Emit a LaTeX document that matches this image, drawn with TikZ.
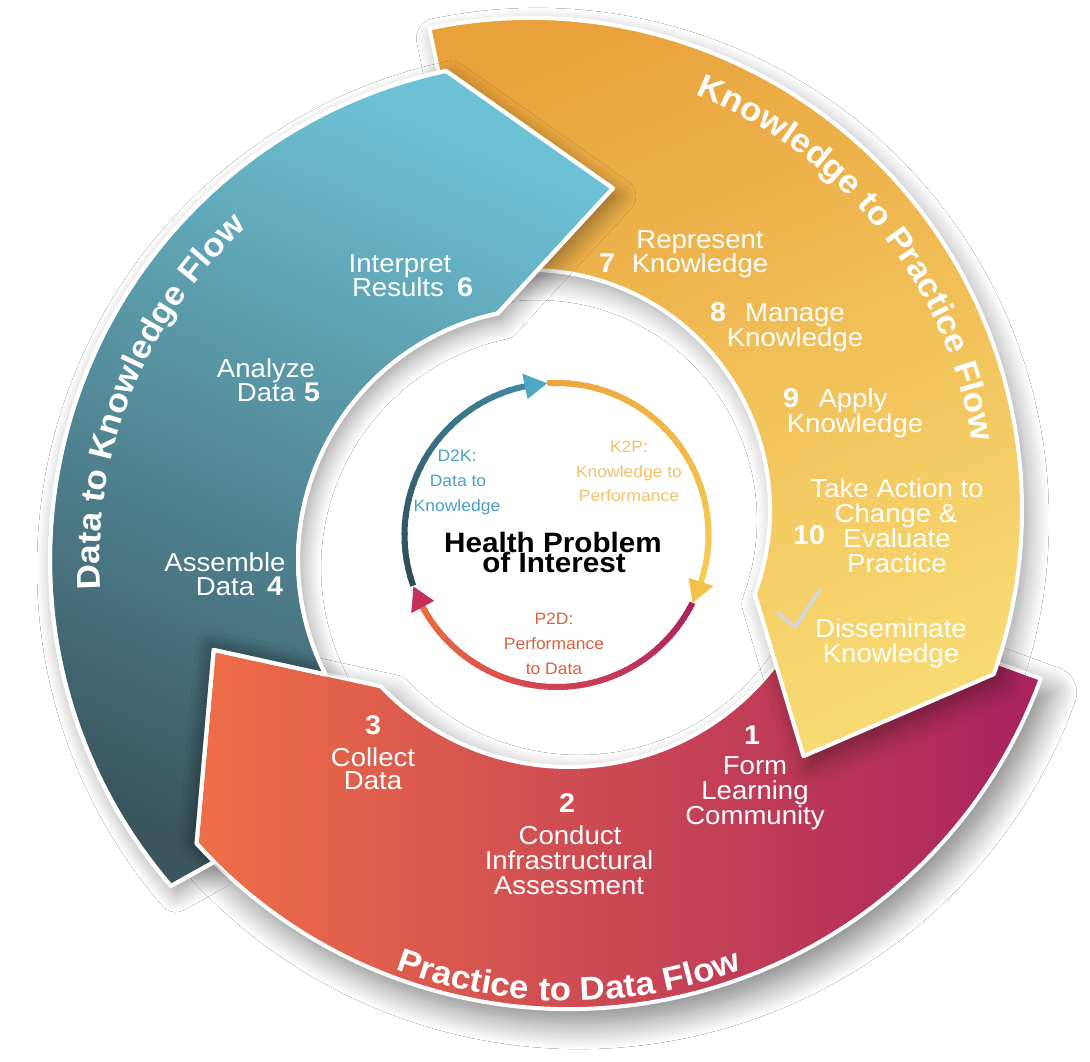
\documentclass[tikz,border=0pt]{standalone}
\usepackage{fontspec}
\setmainfont{Liberation Sans}
\newfontfamily\lblfont{Liberation Sans}[FakeStretch=1.06]
\usetikzlibrary{calc,shadows.blur,decorations.text}
\definecolor{tealL}{HTML}{6DC1D5}
\definecolor{tealD}{HTML}{3A555E}
\definecolor{yelT}{HTML}{E9A13B}
\definecolor{yelB}{HTML}{F8DA72}
\definecolor{redL}{HTML}{EE6E47}
\definecolor{redR}{HTML}{A8225F}
\definecolor{ringTA}{HTML}{2F4B55}
\definecolor{ringTB}{HTML}{3F88A0}
\definecolor{ringTH}{HTML}{4FA8C3}
\definecolor{ringYA}{HTML}{EEA53A}
\definecolor{ringYB}{HTML}{F6CC55}
\definecolor{ringYH}{HTML}{F4C047}
\definecolor{ringRA}{HTML}{AC2360}
\definecolor{ringRM}{HTML}{D24152}
\definecolor{ringRB}{HTML}{EC6C3D}
\definecolor{ringRH}{HTML}{C4305A}
\definecolor{dtk}{HTML}{4C9ECB}
\definecolor{ktp}{HTML}{F1C26C}
\definecolor{ptd}{HTML}{DE6040}
\definecolor{checkc}{HTML}{D6D6D6}

\newcommand{\tealpath}{($(T)+(220.7:500)$) arc[start angle=220.7,end angle=102,radius=500] -- ($(T)+(80.4:377)$) -- ($(T)+(102:252)$) arc[start angle=102,end angle=207,radius=252] -- ($(R)+(-158.1:383)$) -- ($(R)+(-137.9:502)$) -- ($(R)+(-135:502)$) -- cycle}
\newcommand{\yelpath}{($(Y)+(101.8:492)$) arc[start angle=101.8,end angle=-19.5,radius=492] -- ($(Y)+(-42:368)$) -- ($(Y)+(-20.5:240)$) arc[start angle=-20.5,end angle=101.8,radius=240] -- cycle}
\newcommand{\redpath}{($(R)+(-20:502)$) arc[start angle=-20,end angle=-137.9,radius=502] -- ($(R)+(-158.1:383)$) -- ($(R)+(-136.4:260)$) arc[start angle=-136.4,end angle=-20,radius=260] -- cycle}

\newcommand{\gradarc}[4]{%
  \foreach \k in {1,...,30}{%
    \pgfmathsetmacro{\gaS}{#1+(#2-#1)*(\k-1)/30}%
    \pgfmathsetmacro{\gaE}{#1+(#2-#1)*(\k+0.3)/30}%
    \pgfmathtruncatemacro{\gpc}{100*(\k-1)/29}%
    \draw[line width=6pt, color=#4!\gpc!#3] ($(S)+(\gaS:152)$) arc[start angle=\gaS, end angle=\gaE, radius=152];
  }}
\newcommand{\ringhead}[2]{%
  \fill[#2] ($(S)+(#1:152)$) -- ($(S)+(#1+8.5:139)$) -- ($(S)+(#1+8.5:165)$) -- cycle;}
\newcommand{\ttlfont}{\lblfont\bfseries\fontsize{33}{33}\selectfont}

\begin{document}
\begin{tikzpicture}[x=1pt,y=1pt,
  bandline/.style={draw=white, line width=4pt, line join=round},
  tealshadow/.style={blur shadow={shadow xshift=5pt,shadow yshift=-8pt,shadow blur radius=18pt,shadow opacity=40,shadow blur steps=12}},
  yelshadow/.style={blur shadow={shadow xshift=7pt,shadow yshift=-10pt,shadow blur radius=20pt,shadow opacity=38,shadow blur steps=12}},
  redshadow/.style={blur shadow={shadow xshift=10pt,shadow yshift=-14pt,shadow blur radius=26pt,shadow opacity=50,shadow blur steps=14}},
  headshadow/.style={blur shadow={shadow xshift=-2pt,shadow yshift=3pt,shadow blur radius=16pt,shadow opacity=55,shadow blur steps=12}},
  tealband/.style={bandline, top color=tealL, bottom color=tealD, shading angle=-24},
  yelband/.style={yelshadow, bandline, top color=yelT, bottom color=yelB, shading angle=23},
  redband/.style={redshadow, bandline, left color=redL, right color=redR},
  lbl/.style={text=white, font=\lblfont\fontsize{26}{26}\selectfont, inner sep=0pt, anchor=base},
  num/.style={text=white, font=\lblfont\bfseries\fontsize{27}{27}\selectfont, inner sep=0pt, anchor=base},
  ringtxt/.style={font=\lblfont\fontsize{16.5}{16.5}\selectfont, inner sep=0pt, anchor=base},
  hpi/.style={font=\lblfont\bfseries\fontsize{28}{28}\selectfont, text=black, inner sep=0pt, anchor=base}
]
\useasboundingbox (0,0) rectangle (1090,1062);
\fill[white] (0,0) rectangle (1090,1062);
\coordinate (T) at (550,502);
\coordinate (Y) at (530,552);
\coordinate (R) at (569,555);
\coordinate (S) at (556.5,527);

% bands: red, yellow over red, teal over yellow (teal notched round the red head)
\path[redband] \redpath;
\path[yelband] \yelpath;
\begin{scope}[even odd rule]
  \clip (-10,-10) rectangle (1100,1072) \redpath;
  \path[tealshadow] \tealpath;
\end{scope}
\path[tealband] \tealpath;
\begin{scope}
  \clip \tealpath;
  \path[headshadow] \redpath;
\end{scope}
\draw[white, line width=4pt, line join=round] \tealpath;

% band titles
\path[decorate, decoration={text along path, text={|\ttlfont|Data to Knowledge Flow}, text align=center, text color=white}]
  ($(T)+(205:450)$) arc[start angle=205,end angle=111,radius=450];
\path[decorate, decoration={text along path, text={|\ttlfont|Knowledge to Practice Flow}, text align=center, text color=white}]
  ($(Y)+(83:447)$) arc[start angle=83,end angle=-6,radius=447];
\path[decorate, decoration={text along path, text={|\ttlfont|Practice to Data Flow}, text align=center, text color=white}]
  ($(R)+(235:494)$) arc[start angle=235,end angle=305,radius=494];

% teal labels
\node[lbl] (s6a) at (400,789) {Interpret};
\node[lbl] (s6b) at (398,765) {Results};
\node[num] (n6) at (465,765) {6};
\node[lbl] (s5a) at (266,684) {Analyze};
\node[lbl] (s5b) at (266,660) {Data};
\node[num] (n5) at (312,660) {5};
\node[lbl] (s4a) at (225,490) {Assemble};
\node[lbl] (s4b) at (225,466) {Data};
\node[num] (n4) at (275,466) {4};

% yellow labels
\node[lbl] (s7a) at (700,813) {Represent};
\node[lbl] (s7b) at (700,789) {Knowledge};
\node[num] (n7) at (607,789) {7};
\node[lbl] (s8a) at (795,740) {Manage};
\node[lbl] (s8b) at (795,715) {Knowledge};
\node[num] (n8) at (718,740) {8};
\node[lbl] (s9a) at (853,654) {Apply};
\node[lbl] (s9b) at (855,629) {Knowledge};
\node[num] (n9) at (791,654) {9};
\node[lbl] (s10a) at (897,564) {Take Action to};
\node[lbl] (s10b) at (896,539) {Change \&};
\node[lbl] (s10c) at (897,514) {Evaluate};
\node[lbl] (s10d) at (897,489) {Practice};
\node[num] (n10) at (809,517) {10};
\draw[checkc, line width=4pt, line cap=round, line join=round] (778,449) -- (795,435) -- (820,472);
\node[lbl] (sda) at (891,424) {Disseminate};
\node[lbl] (sdb) at (891,399) {Knowledge};

% red labels
\node[num] (n3) at (373,327) {3};
\node[lbl] (s3a) at (373,295) {Collect};
\node[lbl] (s3b) at (373,272) {Data};
\node[num] (n2) at (567,249) {2};
\node[lbl] (s2a) at (570,217) {Conduct};
\node[lbl] (s2b) at (569,192) {Infrastructural};
\node[lbl] (s2c) at (569,167) {Assessment};
\node[num] (n1) at (752,317) {1};
\node[lbl] (s1a) at (755,287) {Form};
\node[lbl] (s1b) at (755,262) {Learning};
\node[lbl] (s1c) at (755,237) {Community};

% inner ring
\gradarc{199.5}{102}{ringTA}{ringTB}
\gradarc{93.5}{-18}{ringYA}{ringYB}
\gradarc{-26.5}{-90}{ringRA}{ringRM}
\gradarc{-90}{-151.7}{ringRM}{ringRB}
\ringhead{93.5}{ringTH}
\ringhead{-26.5}{ringYH}
\ringhead{-160.2}{ringRH}

\node[ringtxt, text=dtk] (d2ka) at (457,600) {D2K:};
\node[ringtxt, text=dtk] (d2kb) at (458,575) {Data to};
\node[ringtxt, text=dtk] (d2kc) at (457,550) {Knowledge};
\node[ringtxt, text=ktp] (k2pa) at (629,609) {K2P:};
\node[ringtxt, text=ktp] (k2pb) at (629,584) {Knowledge to};
\node[ringtxt, text=ktp] (k2pc) at (629,560) {Performance};
\node[ringtxt, text=ptd] (p2da) at (554,437) {P2D:};
\node[ringtxt, text=ptd] (p2db) at (554,412) {Performance};
\node[ringtxt, text=ptd] (p2dc) at (554,387) {to Data};
\node[hpi] (hpa) at (553,509) {Health Problem};
\node[hpi] (hpb) at (554,489) {of Interest};
\end{tikzpicture}
\end{document}
